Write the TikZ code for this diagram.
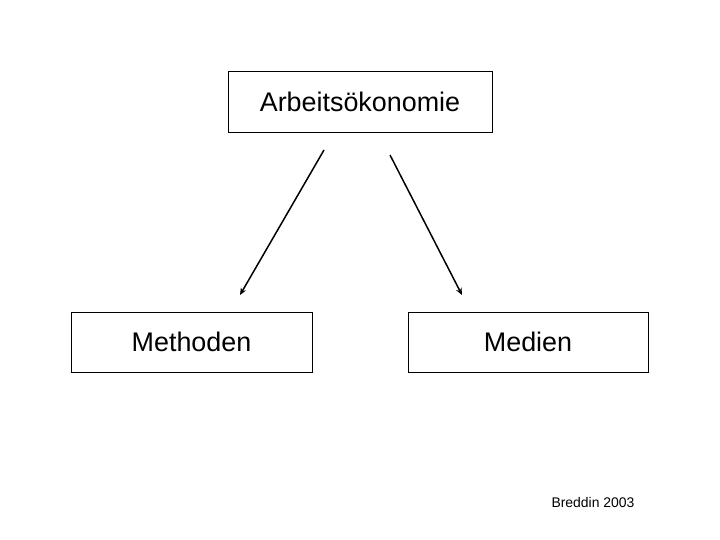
\documentclass[tikz,border=0pt]{standalone}
\usepackage{fontspec}
\setmainfont{Liberation Sans}
\usetikzlibrary{arrows.meta}
\begin{document}
\begin{tikzpicture}[x=1bp,y=-1bp,
  box/.style={draw,line width=1pt,inner sep=0pt,font=\fontsize{27}{30}\selectfont},
  arr/.style={line width=1.5pt,-{Stealth[length=7pt,width=6pt]}}]
\useasboundingbox (0,0) rectangle (720,540);
\node[box,minimum width=264bp,minimum height=60bp] (a) at (360,102) {Arbeitsökonomie};
\node[box,minimum width=241bp,minimum height=60bp] (m) at (191.5,342) {Methoden};
\node[box,minimum width=240bp,minimum height=60bp] (d) at (528,342) {Medien};
\coordinate (s1) at (324,150);
\coordinate (e1) at (240,295);
\coordinate (s2) at (390,155);
\coordinate (e2) at (462,295);
\draw[arr] (s1) -- (e1);
\draw[arr] (s2) -- (e2);
\node[font=\fontsize{14}{16}\selectfont] (b) at (593,503) {Breddin 2003};
\end{tikzpicture}
\end{document}
